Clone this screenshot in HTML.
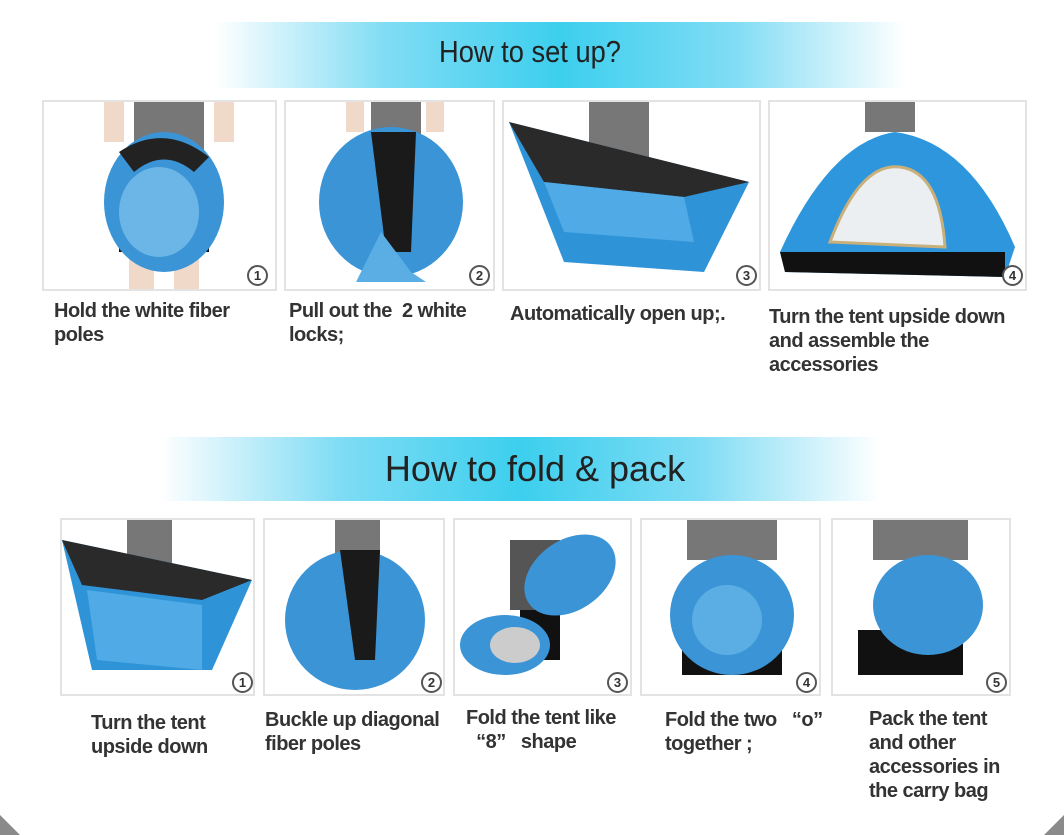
<!DOCTYPE html>
<html><head><style>
body{margin:0;width:1064px;height:835px;background:#fff;position:relative;overflow:hidden;font-family:"Liberation Sans",sans-serif}
.b{position:absolute;border:2px solid #e3e3e3;background:#fff;box-sizing:border-box;overflow:hidden}
.t{position:absolute;color:#333;font-size:20px;font-weight:bold;line-height:24px;letter-spacing:-0.5px}
.ban{position:absolute;background:linear-gradient(90deg,rgba(255,255,255,0),#7fdcf4 25%,#3ccfee 50%,#7fdcf4 75%,rgba(255,255,255,0))}
.h{position:absolute;color:#222;text-align:center}
.n{position:absolute;width:17px;height:17px;border:2px solid #555;border-radius:50%;font-size:13px;font-weight:bold;text-align:center;line-height:17px;color:#333;background:#fff}
svg{position:absolute;left:0;top:0}
.c{position:absolute;width:20px;height:20px;background:#8a8a8a}
</style></head><body>
<div class="ban" style="left:215px;top:22px;width:690px;height:66px"></div>
<div class="h" style="left:215px;top:34px;width:630px;font-size:31px;transform:scaleX(0.88)">How to set up?</div>
<div class="ban" style="left:160px;top:437px;width:720px;height:64px"></div>
<div class="h" style="left:160px;top:448px;width:750px;font-size:36px">How to fold &amp; pack</div>

<!-- top boxes -->
<div class="b" style="left:42px;top:100px;width:235px;height:191px"><svg width="235" height="191">
<rect x="90" y="0" width="70" height="50" fill="#777"/><rect x="60" y="0" width="20" height="40" fill="#f0d9c8"/><rect x="170" y="0" width="20" height="40" fill="#f0d9c8"/>
<rect x="75" y="120" width="90" height="30" fill="#111"/><rect x="85" y="150" width="25" height="40" fill="#f0d9c8"/><rect x="130" y="150" width="25" height="40" fill="#f0d9c8"/>
<ellipse cx="120" cy="100" rx="60" ry="70" fill="#3a94d6"/><ellipse cx="115" cy="110" rx="40" ry="45" fill="#6bb6e6"/><path d="M75 50 Q120 20 165 55 L150 70 Q120 45 90 70Z" fill="#222"/></svg><div class="n" style="left:203px;top:163px">1</div></div>
<div class="b" style="left:284px;top:100px;width:211px;height:191px"><svg width="211" height="191">
<rect x="85" y="0" width="50" height="40" fill="#777"/><rect x="60" y="0" width="18" height="30" fill="#f0d9c8"/><rect x="140" y="0" width="18" height="30" fill="#f0d9c8"/>
<ellipse cx="105" cy="100" rx="72" ry="75" fill="#3a94d6"/><path d="M85 30 L130 30 L125 150 L100 150Z" fill="#1a1a1a"/><path d="M70 180 L95 130 L125 170 L140 180Z" fill="#5aaee4"/></svg><div class="n" style="left:183px;top:163px">2</div></div>
<div class="b" style="left:502px;top:100px;width:259px;height:191px"><svg width="259" height="191">
<rect x="85" y="0" width="60" height="60" fill="#777"/>
<path d="M5 20 L245 80 L200 170 L60 160Z" fill="#2f93d8"/><path d="M5 20 L245 80 L180 95 L40 80Z" fill="#2a2a2a"/><path d="M40 80 L180 95 L190 140 L60 130Z" fill="#4faae6"/></svg><div class="n" style="left:232px;top:163px">3</div></div>
<div class="b" style="left:768px;top:100px;width:259px;height:191px"><svg width="259" height="191">
<rect x="95" y="0" width="50" height="30" fill="#777"/>
<path d="M10 150 Q60 40 125 30 Q200 40 245 145 L235 175 L15 170Z" fill="#2d96dd"/><path d="M60 140 Q90 60 130 65 Q170 70 175 145Z" fill="#eceff1" stroke="#c9b07a" stroke-width="3"/><path d="M10 150 L235 150 L235 175 L15 170Z" fill="#111"/></svg><div class="n" style="left:232px;top:163px">4</div></div>

<div class="t" style="left:54px;top:299px">Hold the white fiber<br>poles</div>
<div class="t" style="left:289px;top:299px">Pull out the &nbsp;2 white<br>locks;</div>
<div class="t" style="left:510px;top:302px">Automatically open up;.</div>
<div class="t" style="left:769px;top:305px">Turn the tent upside down<br>and assemble the<br>accessories</div>

<!-- bottom boxes -->
<div class="b" style="left:60px;top:518px;width:195px;height:178px"><svg width="195" height="178">
<rect x="65" y="0" width="45" height="50" fill="#777"/><path d="M0 20 L190 60 L150 150 L30 150Z" fill="#2f93d8"/><path d="M0 20 L190 60 L140 80 L20 65Z" fill="#2a2a2a"/><path d="M25 70 L140 85 L140 150 L35 140Z" fill="#4faae6"/></svg><div class="n" style="left:170px;top:152px">1</div></div>
<div class="b" style="left:263px;top:518px;width:182px;height:178px"><svg width="182" height="178">
<rect x="70" y="0" width="45" height="40" fill="#777"/><ellipse cx="90" cy="100" rx="70" ry="70" fill="#3a94d6"/><path d="M75 30 L115 30 L110 140 L90 140Z" fill="#1a1a1a"/></svg><div class="n" style="left:156px;top:152px">2</div></div>
<div class="b" style="left:453px;top:518px;width:179px;height:178px"><svg width="179" height="178">
<rect x="55" y="20" width="50" height="70" fill="#555"/><rect x="65" y="90" width="40" height="50" fill="#111"/><ellipse cx="115" cy="55" rx="50" ry="35" fill="#3a94d6" transform="rotate(-35 115 55)"/><ellipse cx="50" cy="125" rx="45" ry="30" fill="#3a94d6"/><ellipse cx="60" cy="125" rx="25" ry="18" fill="#ccc"/></svg><div class="n" style="left:152px;top:152px">3</div></div>
<div class="b" style="left:640px;top:518px;width:181px;height:178px"><svg width="181" height="178">
<rect x="45" y="0" width="90" height="40" fill="#777"/><rect x="40" y="130" width="100" height="25" fill="#111"/><ellipse cx="90" cy="95" rx="62" ry="60" fill="#3a94d6"/><ellipse cx="85" cy="100" rx="35" ry="35" fill="#5aaee4"/></svg><div class="n" style="left:154px;top:152px">4</div></div>
<div class="b" style="left:831px;top:518px;width:180px;height:178px"><svg width="180" height="178">
<rect x="40" y="0" width="95" height="40" fill="#777"/><rect x="25" y="110" width="105" height="45" fill="#111"/><ellipse cx="95" cy="85" rx="55" ry="50" fill="#3a94d6"/></svg><div class="n" style="left:153px;top:152px">5</div></div>

<div class="t" style="left:91px;top:711px">Turn the tent<br>upside down</div>
<div class="t" style="left:265px;top:708px">Buckle up diagonal<br>fiber poles</div>
<div class="t" style="left:466px;top:706px">Fold the tent like<br>&nbsp;&nbsp;“8”&nbsp;&nbsp; shape</div>
<div class="t" style="left:665px;top:708px">Fold the two&nbsp;&nbsp;&nbsp;“o”<br>together ;</div>
<div class="t" style="left:869px;top:707px">Pack the tent<br>and other<br>accessories in<br>the carry bag</div>

<div class="c" style="left:0;top:815px;clip-path:polygon(0 0,100% 100%,0 100%)"></div>
<div class="c" style="right:0;top:815px;clip-path:polygon(100% 0,100% 100%,0 100%)"></div>
</body></html>
